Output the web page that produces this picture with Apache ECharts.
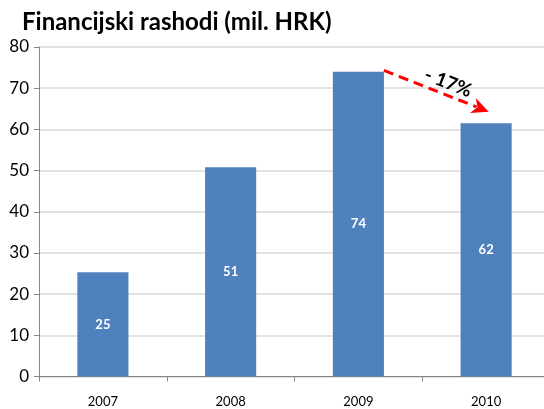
<!DOCTYPE html>
<html><head><meta charset="utf-8">
<script src="https://cdn.jsdelivr.net/npm/echarts@6/dist/echarts.min.js"></script>
<style>html,body{margin:0;padding:0;background:#fff}#c{width:544px;height:409px}</style>
</head><body><div id="c"></div>
<script>
const categories = ['2007', '2008', '2009', '2010'];
const values = [25.3, 50.8, 74.0, 61.5];
const yTicks = [0, 10, 20, 30, 40, 50, 60, 70, 80];
const changeLabel = '- 17%';
const arrowFrom = ['2009', 74.3];
const arrowTo = ['2010', 64.3];

const FONT = 'Lato';
const chart = echarts.init(document.getElementById('c'));
chart.setOption({
  animation: false,
  title: {
    text: 'Financijski rashodi (mil. HRK)',
    left: 17, top: 5,
    textStyle: { fontFamily: FONT, fontWeight: 'bold', fontSize: 24, color: '#000' }
  },
  grid: { left: 39, width: 511, top: 47, bottom: 32.5, outerBoundsMode: 'none', containLabel: false },
  xAxis: {
    type: 'category', data: categories,
    axisLine: { lineStyle: { color: '#868686', width: 1 } },
    axisTick: { show: true, length: 5, inside: false, lineStyle: { color: '#868686' } },
    axisLabel: { fontFamily: FONT, fontSize: 13, color: '#000', margin: 19 }
  },
  yAxis: {
    type: 'value', min: yTicks[0], max: yTicks[yTicks.length - 1], interval: 10,
    axisLine: { show: true, lineStyle: { color: '#868686' } },
    axisTick: { show: true, length: 5, lineStyle: { color: '#868686' } },
    splitLine: { lineStyle: { color: '#d9d9d9', width: 1.5 } },
    axisLabel: { fontFamily: FONT, fontSize: 17, color: '#000', margin: 10 }
  },
  series: [{
    type: 'bar', data: values, barWidth: '40%',
    itemStyle: { color: '#4F81BD' },
    label: {
      show: true, position: 'inside', color: '#fff', fontFamily: FONT,
      fontWeight: 'bold', fontSize: 13,
      formatter: p => Math.round(p.value)
    }
  }]
});

const p1 = chart.convertToPixel({ gridIndex: 0 }, arrowFrom);
const p2 = chart.convertToPixel({ gridIndex: 0 }, arrowTo);
const band = chart.getModel().getComponent('xAxis', 0).axis.getBandWidth();
const x1 = p1[0] + band * 0.2, y1 = p1[1];
const x2 = p2[0] + band * 0.02, y2 = p2[1];
const ang = Math.atan2(y2 - y1, x2 - x1);
const ca = Math.cos(ang), sa = Math.sin(ang);
const headLen = 17, headW = 8;
const bx = x2 - headLen * ca, by = y2 - headLen * sa;
const nx = -sa, ny = ca;
const mx = (x1 + x2) / 2 + 8 * ca - 12 * nx, my = (y1 + y2) / 2 + 8 * sa - 12 * ny;
chart.setOption({
  graphic: [
    { type: 'line', shape: { x1: x1, y1: y1, x2: bx + 4 * ca, y2: by + 4 * sa },
      style: { stroke: '#FF0000', lineWidth: 3, lineDash: [10, 6] }, z: 10 },
    { type: 'polygon', shape: { points: [[x2, y2], [bx + nx * headW, by + ny * headW], [bx + 5 * ca, by + 5 * sa], [bx - nx * headW, by - ny * headW]] },
      style: { fill: '#FF0000' }, z: 10 },
    { type: 'text', x: mx, y: my, rotation: -ang,
      style: { text: changeLabel, fontFamily: FONT, fontWeight: 'bold', fontSize: 19, fill: '#000', align: 'center', verticalAlign: 'middle' }, z: 10 }
  ]
});
</script></body></html>
